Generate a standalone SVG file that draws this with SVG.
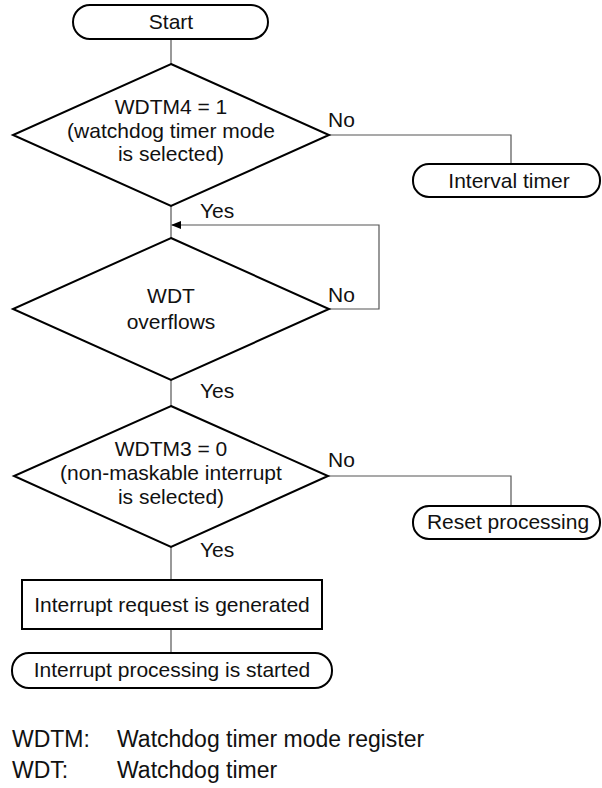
<svg xmlns="http://www.w3.org/2000/svg" width="602" height="788" viewBox="0 0 602 788">
<style>
.shape{fill:#fff;stroke:#000;stroke-width:2}
.conn{fill:none;stroke:#555;stroke-width:1.2}
text{font-family:"Liberation Sans",Arial,sans-serif;font-size:21px;fill:#111}
.c{text-anchor:middle}
.leg{font-size:23px}
</style>
<defs>
<marker id="arr" markerWidth="10" markerHeight="8" refX="9" refY="4" orient="auto" markerUnits="userSpaceOnUse">
<path d="M0,0 L10,4 L0,8 Z" fill="#000"/>
</marker>
</defs>
<g id="connectors">
<line class="conn" x1="171" y1="39" x2="171" y2="64"/>
<polyline class="conn" points="329,135 511,135 511,164"/>
<line class="conn" x1="171" y1="206" x2="171" y2="238"/>
<polyline class="conn" points="329,309 379,309 379,225 172,225" marker-end="url(#arr)"/>
<line class="conn" x1="171" y1="380" x2="171" y2="406"/>
<polyline class="conn" points="328,476 511,476 511,506"/>
<line class="conn" x1="171" y1="547" x2="171" y2="580"/>
<line class="conn" x1="171" y1="629" x2="171" y2="653"/>
</g>
<g id="start">
<rect class="shape" x="73" y="5" width="195" height="34" rx="17" ry="17"/>
<text class="c" x="171" y="29">Start</text>
</g>
<g id="decision1">
<polygon class="shape" points="171,64 329,135 171,206 13,135"/>
<text class="c" x="171" y="114">WDTM4 = 1</text>
<text class="c" x="171" y="137.5">(watchdog timer mode</text>
<text class="c" x="171" y="161">is selected)</text>
</g>
<text x="328" y="127">No</text>
<text x="200" y="218">Yes</text>
<g id="interval">
<rect class="shape" x="413" y="164" width="187" height="33" rx="16" ry="16"/>
<text class="c" x="509" y="188">Interval timer</text>
</g>
<g id="decision2">
<polygon class="shape" points="171,238 329,309 171,380 13,309"/>
<text class="c" x="171" y="303">WDT</text>
<text class="c" x="171" y="329">overflows</text>
</g>
<text x="328" y="302">No</text>
<text x="200" y="398">Yes</text>
<g id="decision3">
<polygon class="shape" points="171,406 328,476 171,547 14,476"/>
<text class="c" x="171" y="456">WDTM3 = 0</text>
<text class="c" x="171" y="480">(non-maskable interrupt</text>
<text class="c" x="171" y="504">is selected)</text>
</g>
<text x="328" y="467">No</text>
<text x="200" y="557">Yes</text>
<g id="reset">
<rect class="shape" x="413" y="506" width="187" height="33" rx="16" ry="16"/>
<text class="c" x="508" y="529">Reset processing</text>
</g>
<g id="irq">
<rect class="shape" x="22" y="580" width="300" height="49"/>
<text class="c" x="172" y="612">Interrupt request is generated</text>
</g>
<g id="iproc">
<rect class="shape" x="12" y="653" width="320" height="35" rx="17" ry="17"/>
<text class="c" x="172" y="677">Interrupt processing is started</text>
</g>
<g id="legend">
<text class="leg" x="12" y="747">WDTM:</text>
<text class="leg" x="117" y="747">Watchdog timer mode register</text>
<text class="leg" x="12" y="778">WDT:</text>
<text class="leg" x="117" y="778">Watchdog timer</text>
</g>
</svg>
